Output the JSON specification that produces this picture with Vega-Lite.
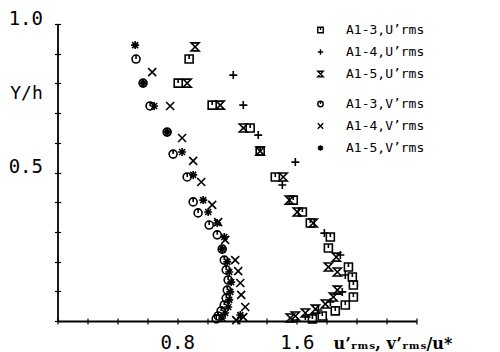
{
  "$schema": "https://vega.github.io/schema/vega-lite/v6.json",
  "width": 359,
  "height": 297,
  "autosize": "none",
  "padding": {"left": 57.5, "top": 24, "right": 83.5, "bottom": 31},
  "background": "white",
  "config": {"view": {"stroke": null}},
  "datasets": {
    "u": [
      {"s": "A1-3,U’rms", "x": 0.880, "y": 0.882},
      {"s": "A1-3,U’rms", "x": 0.807, "y": 0.801},
      {"s": "A1-3,U’rms", "x": 1.034, "y": 0.727},
      {"s": "A1-3,U’rms", "x": 1.288, "y": 0.650},
      {"s": "A1-3,U’rms", "x": 1.355, "y": 0.572},
      {"s": "A1-3,U’rms", "x": 1.456, "y": 0.485},
      {"s": "A1-3,U’rms", "x": 1.576, "y": 0.407},
      {"s": "A1-3,U’rms", "x": 1.637, "y": 0.367},
      {"s": "A1-3,U’rms", "x": 1.690, "y": 0.330},
      {"s": "A1-3,U’rms", "x": 1.824, "y": 0.283},
      {"s": "A1-3,U’rms", "x": 1.811, "y": 0.246},
      {"s": "A1-3,U’rms", "x": 1.945, "y": 0.182},
      {"s": "A1-3,U’rms", "x": 1.971, "y": 0.148},
      {"s": "A1-3,U’rms", "x": 1.978, "y": 0.121},
      {"s": "A1-3,U’rms", "x": 1.978, "y": 0.081},
      {"s": "A1-3,U’rms", "x": 1.924, "y": 0.054},
      {"s": "A1-3,U’rms", "x": 1.857, "y": 0.034},
      {"s": "A1-3,U’rms", "x": 1.770, "y": 0.017},
      {"s": "A1-3,U’rms", "x": 1.704, "y": 0.007},
      {"s": "A1-4,U’rms", "x": 1.175, "y": 0.828},
      {"s": "A1-4,U’rms", "x": 1.242, "y": 0.727},
      {"s": "A1-4,U’rms", "x": 1.342, "y": 0.626},
      {"s": "A1-4,U’rms", "x": 1.590, "y": 0.535},
      {"s": "A1-4,U’rms", "x": 1.503, "y": 0.458},
      {"s": "A1-4,U’rms", "x": 1.784, "y": 0.296},
      {"s": "A1-4,U’rms", "x": 1.891, "y": 0.222},
      {"s": "A1-4,U’rms", "x": 1.924, "y": 0.155},
      {"s": "A1-4,U’rms", "x": 1.904, "y": 0.098},
      {"s": "A1-4,U’rms", "x": 1.824, "y": 0.064},
      {"s": "A1-4,U’rms", "x": 1.744, "y": 0.037},
      {"s": "A1-4,U’rms", "x": 1.657, "y": 0.017},
      {"s": "A1-5,U’rms", "x": 0.920, "y": 0.923},
      {"s": "A1-5,U’rms", "x": 0.867, "y": 0.801},
      {"s": "A1-5,U’rms", "x": 1.088, "y": 0.727},
      {"s": "A1-5,U’rms", "x": 1.242, "y": 0.650},
      {"s": "A1-5,U’rms", "x": 1.355, "y": 0.572},
      {"s": "A1-5,U’rms", "x": 1.509, "y": 0.485},
      {"s": "A1-5,U’rms", "x": 1.550, "y": 0.407},
      {"s": "A1-5,U’rms", "x": 1.603, "y": 0.367},
      {"s": "A1-5,U’rms", "x": 1.710, "y": 0.330},
      {"s": "A1-5,U’rms", "x": 1.864, "y": 0.215},
      {"s": "A1-5,U’rms", "x": 1.811, "y": 0.182},
      {"s": "A1-5,U’rms", "x": 1.871, "y": 0.165},
      {"s": "A1-5,U’rms", "x": 1.871, "y": 0.104},
      {"s": "A1-5,U’rms", "x": 1.844, "y": 0.081},
      {"s": "A1-5,U’rms", "x": 1.791, "y": 0.057},
      {"s": "A1-5,U’rms", "x": 1.724, "y": 0.040},
      {"s": "A1-5,U’rms", "x": 1.657, "y": 0.027},
      {"s": "A1-5,U’rms", "x": 1.590, "y": 0.017},
      {"s": "A1-5,U’rms", "x": 1.556, "y": 0.010}
    ],
    "v": [
      {"s": "A1-3,V’rms", "x": 0.525, "y": 0.882},
      {"s": "A1-3,V’rms", "x": 0.572, "y": 0.801},
      {"s": "A1-3,V’rms", "x": 0.619, "y": 0.724},
      {"s": "A1-3,V’rms", "x": 0.733, "y": 0.636},
      {"s": "A1-3,V’rms", "x": 0.773, "y": 0.562},
      {"s": "A1-3,V’rms", "x": 0.867, "y": 0.485},
      {"s": "A1-3,V’rms", "x": 0.907, "y": 0.401},
      {"s": "A1-3,V’rms", "x": 0.940, "y": 0.364},
      {"s": "A1-3,V’rms", "x": 1.014, "y": 0.323},
      {"s": "A1-3,V’rms", "x": 1.068, "y": 0.290},
      {"s": "A1-3,V’rms", "x": 1.101, "y": 0.242},
      {"s": "A1-3,V’rms", "x": 1.115, "y": 0.205},
      {"s": "A1-3,V’rms", "x": 1.128, "y": 0.172},
      {"s": "A1-3,V’rms", "x": 1.141, "y": 0.138},
      {"s": "A1-3,V’rms", "x": 1.135, "y": 0.104},
      {"s": "A1-3,V’rms", "x": 1.128, "y": 0.077},
      {"s": "A1-3,V’rms", "x": 1.115, "y": 0.054},
      {"s": "A1-3,V’rms", "x": 1.094, "y": 0.034},
      {"s": "A1-3,V’rms", "x": 1.074, "y": 0.017},
      {"s": "A1-3,V’rms", "x": 1.061, "y": 0.007},
      {"s": "A1-4,V’rms", "x": 0.633, "y": 0.838},
      {"s": "A1-4,V’rms", "x": 0.753, "y": 0.724},
      {"s": "A1-4,V’rms", "x": 0.833, "y": 0.616},
      {"s": "A1-4,V’rms", "x": 0.907, "y": 0.539},
      {"s": "A1-4,V’rms", "x": 0.961, "y": 0.468},
      {"s": "A1-4,V’rms", "x": 1.034, "y": 0.391},
      {"s": "A1-4,V’rms", "x": 1.074, "y": 0.333},
      {"s": "A1-4,V’rms", "x": 1.121, "y": 0.273},
      {"s": "A1-4,V’rms", "x": 1.188, "y": 0.205},
      {"s": "A1-4,V’rms", "x": 1.208, "y": 0.168},
      {"s": "A1-4,V’rms", "x": 1.222, "y": 0.128},
      {"s": "A1-4,V’rms", "x": 1.228, "y": 0.088},
      {"s": "A1-4,V’rms", "x": 1.255, "y": 0.047},
      {"s": "A1-4,V’rms", "x": 1.242, "y": 0.013},
      {"s": "A1-4,V’rms", "x": 1.195, "y": 0.003},
      {"s": "A1-5,V’rms", "x": 0.519, "y": 0.929},
      {"s": "A1-5,V’rms", "x": 0.572, "y": 0.801},
      {"s": "A1-5,V’rms", "x": 0.646, "y": 0.724},
      {"s": "A1-5,V’rms", "x": 0.733, "y": 0.636},
      {"s": "A1-5,V’rms", "x": 0.833, "y": 0.569},
      {"s": "A1-5,V’rms", "x": 0.907, "y": 0.492},
      {"s": "A1-5,V’rms", "x": 0.974, "y": 0.407},
      {"s": "A1-5,V’rms", "x": 1.007, "y": 0.367},
      {"s": "A1-5,V’rms", "x": 1.068, "y": 0.330},
      {"s": "A1-5,V’rms", "x": 1.115, "y": 0.283},
      {"s": "A1-5,V’rms", "x": 1.101, "y": 0.242},
      {"s": "A1-5,V’rms", "x": 1.135, "y": 0.199},
      {"s": "A1-5,V’rms", "x": 1.148, "y": 0.165},
      {"s": "A1-5,V’rms", "x": 1.161, "y": 0.131},
      {"s": "A1-5,V’rms", "x": 1.155, "y": 0.098},
      {"s": "A1-5,V’rms", "x": 1.148, "y": 0.071},
      {"s": "A1-5,V’rms", "x": 1.141, "y": 0.047},
      {"s": "A1-5,V’rms", "x": 1.121, "y": 0.027},
      {"s": "A1-5,V’rms", "x": 1.222, "y": 0.020},
      {"s": "A1-5,V’rms", "x": 1.101, "y": 0.010}
    ]
  },
  "layer": [
    {
      "data": {"name": "u"},
      "mark": {"type": "point", "filled": false, "color": "black", "strokeWidth": 1.6, "size": 64, "opacity": 1},
      "encoding": {
        "x": {
          "field": "x", "type": "quantitative",
          "scale": {"domain": [0, 2.4], "nice": false, "zero": true},
          "axis": {
            "orient": "bottom",
            "values": [0, 0.2, 0.4, 0.6, 0.8, 1.0, 1.2, 1.4, 1.6, 1.8, 2.0, 2.2, 2.4],
            "labelExpr": "abs(datum.value - 0.8) < 0.01 || abs(datum.value - 1.6) < 0.01 ? format(datum.value, '.1f') : ''",
            "labelFont": "DejaVu Sans Mono", "labelFontSize": 19, "labelColor": "black",
            "labelDx": 5, "labelPadding": 9, "labelBaseline": "top", "labelOverlap": false, "labelFlush": false,
            "domainColor": "black", "domainWidth": 1.8, "tickColor": "black", "tickSize": 3, "tickWidth": 1.2,
            "grid": false,
            "title": "u’ᵣₘₛ, v’ᵣₘₛ/u*",
            "titleFont": "DejaVu Serif", "titleFontWeight": "bold", "titleFontSize": 16, "titleColor": "black",
            "titleAlign": "left", "titleBaseline": "middle", "titleX": 275.5, "titleY": 22
          }
        },
        "y": {
          "field": "y", "type": "quantitative",
          "scale": {"domain": [0, 1], "nice": false},
          "axis": {
            "orient": "left",
            "values": [0, 0.1, 0.2, 0.3, 0.4, 0.5, 0.6, 0.7, 0.8, 0.9, 1.0],
            "labelExpr": "abs(datum.value - 0.5) < 0.01 || abs(datum.value - 1.0) < 0.01 ? format(datum.value, '.1f') : ''",
            "labelFont": "DejaVu Sans Mono", "labelFontSize": 19, "labelColor": "black",
            "labelPadding": 12, "labelBaseline": "alphabetic", "labelOverlap": false, "labelFlush": false,
            "domainColor": "black", "domainWidth": 1.8, "tickColor": "black", "tickSize": 3, "tickWidth": 1.2,
            "grid": false,
            "title": "Y/h",
            "titleFont": "DejaVu Sans Mono", "titleFontWeight": "normal", "titleFontSize": 18, "titleColor": "black",
            "titleAngle": 0, "titleAlign": "center", "titleBaseline": "middle", "titleX": -31.5, "titleY": 69
          }
        },
        "shape": {
          "field": "s", "type": "nominal",
          "scale": {
            "domain": ["A1-3,U’rms", "A1-4,U’rms", "A1-5,U’rms"],
            "range": ["M-1,-1L1,-1L1,1L-1,1ZM0,-1L0,0", "M-1,0L1,0M0,-1L0,1", "M-1,-1L1,-1L-1,1L1,1Z"]
          },
          "legend": {
            "orient": "none", "legendX": 256.5, "legendY": -0.5, "title": null, "padding": 0,
            "labelFont": "DejaVu Sans Mono", "labelFontSize": 13, "labelColor": "black",
            "symbolSize": 30, "symbolStrokeColor": "black", "symbolStrokeWidth": 1.4,
            "rowPadding": 8, "labelOffset": 19
          }
        }
      }
    },
    {
      "data": {"name": "v"},
      "mark": {"type": "point", "filled": false, "color": "black", "strokeWidth": 1.6, "size": 64, "opacity": 1},
      "encoding": {
        "x": {
          "field": "x", "type": "quantitative",
          "scale": {"domain": [0, 2.4], "nice": false, "zero": true},
          "axis": {
            "orient": "bottom", "offset": -3,
            "values": [0, 0.2, 0.4, 0.6, 0.8, 1.0, 1.2, 1.4, 1.6, 1.8, 2.0, 2.2, 2.4],
            "labels": false, "domain": false, "grid": false, "title": null,
            "tickColor": "black", "tickSize": 3, "tickWidth": 1.2
          }
        },
        "y": {
          "field": "y", "type": "quantitative",
          "scale": {"domain": [0, 1], "nice": false},
          "axis": {
            "orient": "left", "offset": -3,
            "values": [0, 0.1, 0.2, 0.3, 0.4, 0.5, 0.6, 0.7, 0.8, 0.9, 1.0],
            "labels": false, "domain": false, "grid": false, "title": null,
            "tickColor": "black", "tickSize": 3, "tickWidth": 1.2
          }
        },
        "shape": {
          "field": "s", "type": "nominal",
          "scale": {
            "domain": ["A1-3,V’rms", "A1-4,V’rms", "A1-5,V’rms"],
            "range": ["M-1,0A1,1,0,1,1,1,0A1,1,0,1,1,-1,0ZM0,-1L0,0", "M-1,-1L1,1M-1,1L1,-1", "M-1,0L1,0M0,-1L0,1M-0.75,-0.75L0.75,0.75M-0.75,0.75L0.75,-0.75"]
          },
          "legend": {
            "orient": "none", "legendX": 256.5, "legendY": 73.5, "title": null, "padding": 0,
            "labelFont": "DejaVu Sans Mono", "labelFontSize": 13, "labelColor": "black",
            "symbolSize": 30, "symbolStrokeColor": "black", "symbolStrokeWidth": 1.4,
            "rowPadding": 8, "labelOffset": 19
          }
        }
      }
    }
  ],
  "resolve": {"scale": {"shape": "independent"}, "axis": {"x": "independent", "y": "independent"}}
}
